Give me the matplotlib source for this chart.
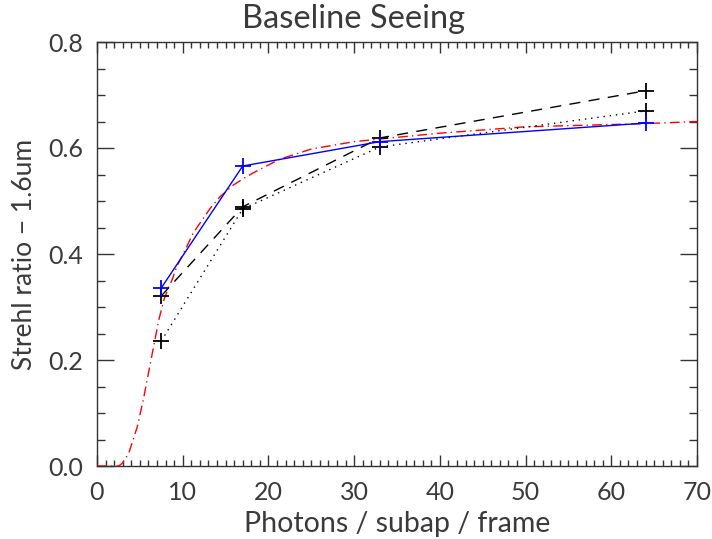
import matplotlib
matplotlib.use("Agg")
import matplotlib.pyplot as plt
from matplotlib.ticker import MultipleLocator, FormatStrFormatter

photons = [7.5, 17, 33, 64]
strehl_blue = [0.336, 0.566, 0.612, 0.647]
strehl_dashed = [0.321, 0.489, 0.619, 0.708]
strehl_dotted = [0.236, 0.485, 0.602, 0.670]

model_x = [0, 1, 2, 2.5, 2.7, 3.0, 3.7, 4.7, 5.4, 6.0, 6.6, 7.2, 7.8, 8.3, 8.75, 9.3, 10.3,
           11.2, 13.2, 14.35, 15.9, 17.45, 18.8, 21.35, 25, 30, 33, 40, 50, 64, 70]
model_y = [0, 0, 0, 0, 0.002, 0.006, 0.024, 0.074, 0.125, 0.175, 0.225, 0.275, 0.313, 0.335,
           0.351, 0.376, 0.408, 0.439, 0.486, 0.508, 0.530, 0.546, 0.558, 0.579, 0.598, 0.612,
           0.617, 0.628, 0.640, 0.646, 0.650]

title = "Baseline Seeing"
xlabel = "Photons / subap / frame"
ylabel = "Strehl ratio \u2212 1.6um"

plt.rcParams['font.family'] = ['Lato', 'DejaVu Sans']
plt.rcParams['font.weight'] = 'normal'
txtc = '#3a3a3a'
fig = plt.figure(figsize=(7.12, 5.39), dpi=100)
ax = fig.add_axes([97/712, 73/539, 600/712, 424/539])

lw = 1.0
ax.plot(model_x, model_y, color='red', lw=lw, linestyle=(0, (7, 3, 1, 3)), zorder=3)
ax.plot(photons, strehl_dashed, color='black', lw=lw, linestyle=(0, (8, 6)),
        marker='+', markersize=12, markeredgewidth=1.3, zorder=4)
ax.plot(photons, strehl_dotted, color='black', lw=lw, linestyle=(0, (1, 3.5)),
        marker='+', markersize=12, markeredgewidth=1.3, zorder=4)
ax.plot(photons, strehl_blue, color='blue', lw=lw, linestyle='-',
        marker='+', markersize=12, markeredgewidth=1.3, zorder=5)

ax.set_xlim(0, 70)
ax.set_ylim(0, 0.8)
ax.xaxis.set_major_locator(MultipleLocator(10))
ax.xaxis.set_minor_locator(MultipleLocator(1))
ax.yaxis.set_major_locator(MultipleLocator(0.2))
ax.yaxis.set_minor_locator(MultipleLocator(0.05))
ax.yaxis.set_major_formatter(FormatStrFormatter('%.1f'))

ax.tick_params(which='both', direction='in', top=True, right=True, colors='#333333',
               labelcolor=txtc, labelsize=18, width=1.0)
ax.tick_params(axis='x', which='major', length=8, pad=11)
ax.tick_params(axis='x', which='minor', length=4)
ax.tick_params(axis='y', which='major', length=12, pad=10)
ax.tick_params(axis='y', which='minor', length=6)
for s in ax.spines.values():
    s.set_linewidth(1.0)
    s.set_color('#333333')

ax.set_xlabel(xlabel, fontsize=20.5, labelpad=5, color=txtc)
ax.set_ylabel(ylabel, fontsize=19, labelpad=8, color=txtc)
fig.text(0.497, 0.965, title, ha='center', va='center', fontsize=23.5, color=txtc)

fig.savefig("out.png", dpi=100)
